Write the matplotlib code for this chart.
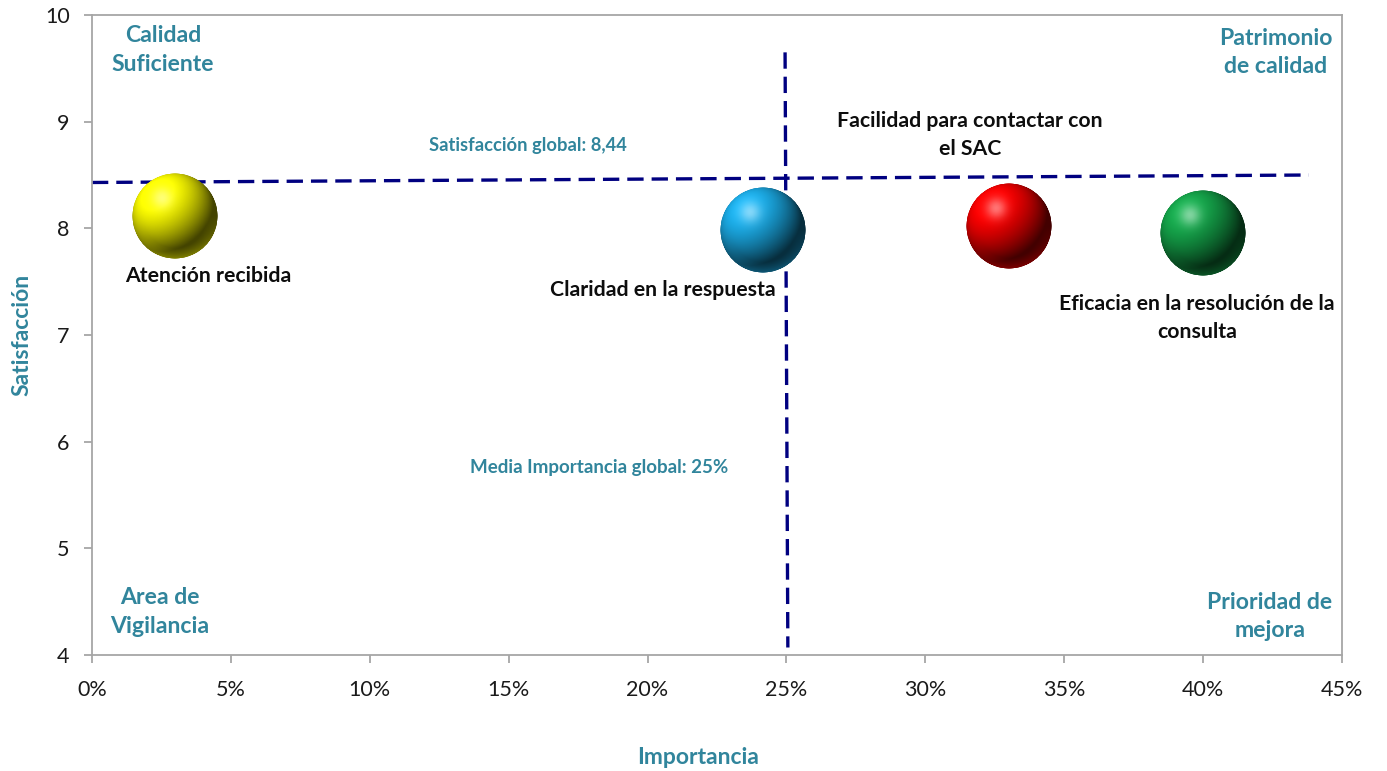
import numpy as np
import matplotlib
matplotlib.use("Agg")
import matplotlib.pyplot as plt
from matplotlib.offsetbox import OffsetImage, AnnotationBbox
from matplotlib.ticker import PercentFormatter

plt.rcParams["font.family"] = ["Lato", "DejaVu Sans"]

# --- data -------------------------------------------------------------
atributos = [
    "Atención recibida",
    "Claridad en la respuesta",
    "Facilidad para contactar con\nel SAC",
    "Eficacia en la resolución de la\nconsulta",
]
importancia = [0.030, 0.2415, 0.330, 0.400]
satisfaccion = [8.12, 7.98, 8.02, 7.96]
colores = ["#F5F500", "#1AA6DF", "#F00000", "#14A048"]

# label offsets (axis fraction units) relative to each bubble
label_dx = [0.026, -0.080, -0.031, -0.005]
label_dy = [-0.095, -0.093, 0.1425, -0.133]

media_importancia = 0.25
satisf_global = 8.44
h_line_x = [0.0, 0.438]
h_line_y = [8.43, 8.50]
v_line_x = [0.2495, 0.2505]
v_line_y = [9.65, 4.07]

cuadrantes = ["Calidad\nSuficiente", "Patrimonio\nde calidad",
              "Area de\nVigilancia", "Prioridad de\nmejora"]
cuad_x = [0.0256, 0.426, 0.0245, 0.424]
cuad_y = [9.67, 9.65, 4.40, 4.36]

TEAL = "#31859C"
NAVY = "#000080"
GRID = "#A6A6A6"


def sphere(color, n=240):
    """Shaded RGBA sphere image lit from the upper left."""
    base = np.array(matplotlib.colors.to_rgb(color))
    u = np.linspace(-1, 1, n)
    xx, yy = np.meshgrid(u, -u)
    r2 = xx ** 2 + yy ** 2
    z = np.sqrt(np.clip(1 - r2, 0, 1))
    light = np.array([-0.45, 0.55, 0.70])
    light = light / np.linalg.norm(light)
    diff = np.clip(xx * light[0] + yy * light[1] + z * light[2], 0, 1)
    shade = 0.28 + 0.85 * diff ** 1.1
    img = np.clip(base[None, None, :] * shade[..., None], 0, 1)
    # soft highlight
    hx, hy = -0.30, 0.42
    spot = np.exp(-((xx - hx) ** 2 + (yy - hy) ** 2) / 0.06)
    img = img + (1 - img) * (0.45 * spot)[..., None]
    # slight reflected light on lower rim
    rim = np.clip((np.sqrt(r2) - 0.75) / 0.25, 0, 1) * np.clip(-yy, 0, 1)
    img = img + (base - img) * (0.35 * rim)[..., None]
    alpha = np.clip((1 - np.sqrt(r2)) * n / 2.5, 0, 1)
    return np.dstack([np.clip(img, 0, 1), alpha])


fig = plt.figure(figsize=(13.87, 7.71), dpi=100)
ax = fig.add_axes([0.0663, 0.1505, 0.9013, 0.830])

ax.set_xlim(0, 0.45)
ax.set_ylim(4, 10)
ax.set_xticks(np.arange(0, 0.451, 0.05))
ax.set_yticks(np.arange(4, 10.1, 1))
ax.xaxis.set_major_formatter(PercentFormatter(1.0, decimals=0))
for s in ax.spines.values():
    s.set_color(GRID)
    s.set_linewidth(1.3)
ax.tick_params(axis="both", direction="out", length=6, width=1.3,
               color=GRID, labelsize=15.5, labelcolor="#1A1A1A")
ax.tick_params(axis="x", pad=12)
ax.tick_params(axis="y", pad=10)

# reference lines
ax.plot(h_line_x, h_line_y, color=NAVY, lw=2.4, linestyle=(0, (4.9, 2.4)),
        zorder=2)
ax.plot(v_line_x, v_line_y, color=NAVY, lw=2.4, linestyle=(0, (4.9, 2.4)),
        zorder=2)

# bubbles
zoom = 86 / (240 * 100 / 72)
for xi, yi, c in zip(importancia, satisfaccion, colores):
    ab = AnnotationBbox(OffsetImage(sphere(c), zoom=zoom), (xi, yi),
                        frameon=False, zorder=3)
    ax.add_artist(ab)

for xi, yi, name, dx, dy in zip(importancia, satisfaccion, atributos,
                                label_dx, label_dy):
    ax.text(xi + dx * 0.45, yi + dy * 6, name, ha="center", va="center",
            fontsize=15.3, fontweight="bold", color="#0D0D0D",
            linespacing=1.5, zorder=4)

# quadrant names
for txt, qx, qy in zip(cuadrantes, cuad_x, cuad_y):
    ax.text(qx, qy, txt, ha="center", va="center", fontsize=16.6,
            fontweight="bold", color=TEAL, linespacing=1.45)

ax.text(0.157, 8.78, f"Satisfacción global: {satisf_global:.2f}".replace(".", ","),
        ha="center", va="center", fontsize=13.2, fontweight="bold", color=TEAL)
ax.text(0.1825, 5.755, f"Media Importancia global: {media_importancia:.0%}",
        ha="center", va="center", fontsize=13.5, fontweight="bold", color=TEAL)

fig.text(0.503, 0.018, "Importancia", ha="center", va="center",
         fontsize=16.5, fontweight="bold", color=TEAL)
fig.text(0.016, 0.565, "Satisfacción", ha="center", va="center",
         rotation=90, fontsize=16.5, fontweight="bold", color=TEAL)

fig.savefig("out.png", dpi=100)
